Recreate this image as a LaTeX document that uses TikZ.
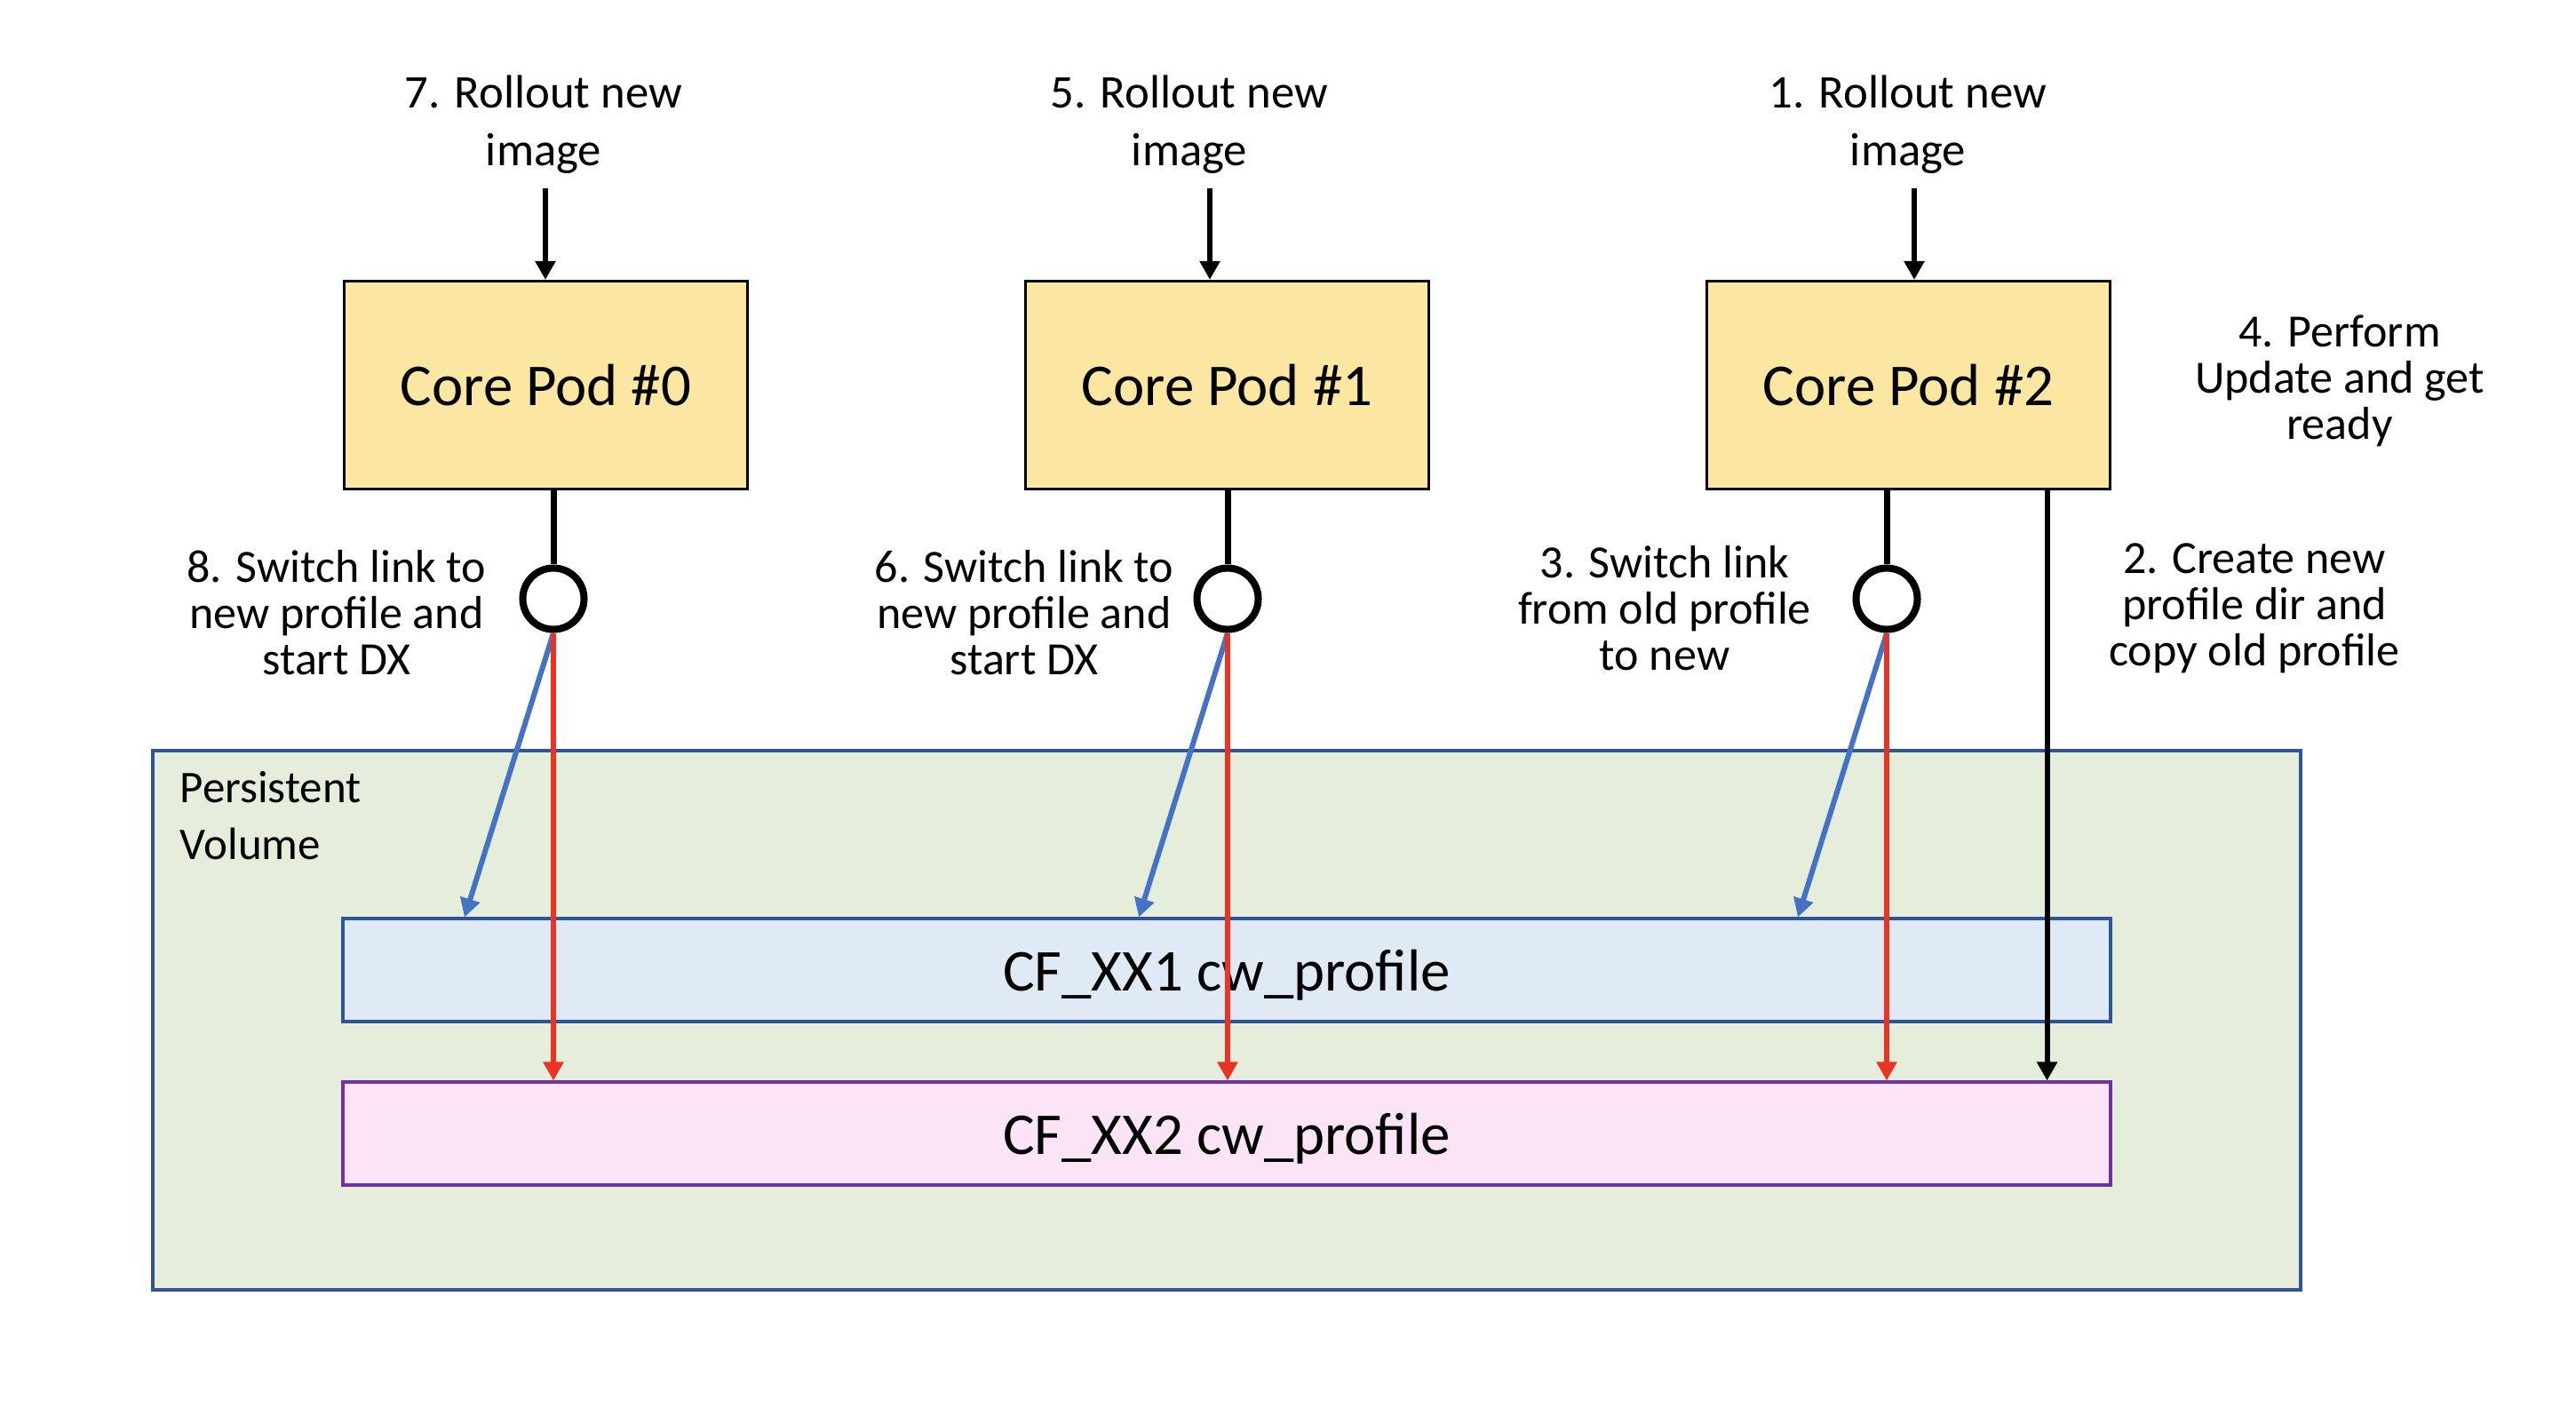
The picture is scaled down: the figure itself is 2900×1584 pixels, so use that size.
\documentclass[tikz,border=0pt]{standalone}
\usepackage{fontspec}
\setmainfont{Carlito}
\usetikzlibrary{calc,positioning,arrows.meta}

\definecolor{podyellow}{HTML}{FBE6A2}
\definecolor{volgreen}{HTML}{E5EEDB}
\definecolor{volblue}{HTML}{2F5597}
\definecolor{oldblue}{HTML}{DFEAF5}
\definecolor{newpink}{HTML}{FAE4F6}
\definecolor{newpurple}{HTML}{7030A0}
\definecolor{linkblue}{HTML}{4472C4}
\definecolor{copyred}{HTML}{EA3323}

\tikzset{
	pod/.style={draw=black,line width=0.03cm,fill=podyellow,minimum width=4.54cm,minimum height=2.34cm,inner sep=0pt,font=\fontsize{19}{23}\selectfont},
	profile/.style={line width=0.04cm,minimum width=19.88cm,minimum height=1.15cm,inner sep=0pt,text depth=0pt,font=\fontsize{19}{23}\selectfont},
	switch/.style={circle,draw=black,line width=0.08cm,fill=white,minimum size=0.69cm,inner sep=0pt},
	note/.style={align=center,inner sep=0pt,font=\fontsize{14.8}{14.8}\selectfont},
	rollnote/.style={align=center,inner sep=0pt,font=\fontsize{15}{18.5}\selectfont},
	tip/.style={-{Triangle[width=0.22cm,length=0.21cm]}},
	link/.style={line width=0.07cm},
	rollout/.style={tip,line width=0.06cm},
	oldlink/.style={tip,line width=0.06cm,draw=linkblue,fill=linkblue},
	newlink/.style={tip,line width=0.06cm,draw=copyred,fill=copyred},
}

\begin{document}
\begin{tikzpicture}[x=0.01cm,y=-0.01cm]
	
	\useasboundingbox (0,0) rectangle (2900,1584);
	
	% persistent volume and the two profile dirs
	\draw [line width=0.04cm,draw=volblue,fill=volgreen] (172,845) rectangle (2590,1452);
	\node [anchor=north west,inner sep=0pt,align=left,font=\fontsize{14.5}{18}\selectfont] (volume-text) at (202,868) {Persistent\\Volume};
	
	\node [profile,draw=volblue,fill=oldblue] (profile-old) at (1381,1092) {CF\_XX1 cw\_profile};
	\node [profile,draw=newpurple,fill=newpink] (profile-new) at (1381,1276) {CF\_XX2 cw\_profile};
	
	%%%%%%%%%%%%%%%%%%%%%%%%%%%%%%%%%%%%%%%%%%%%%%%%%%%%%%
	
	\node [pod] (pod0) at (614.5,433.5) {Core Pod \#0};
	\node [pod] (pod1) at (1381.5,433.5) {Core Pod \#1};
	\node [pod] (pod2) at (2148.5,433.5) {Core Pod \#2};
	
	\node [rollnote] (roll0-text) at (612,140) {7. Rollout new\\image};
	\node [rollnote] (roll1-text) at (1339,140) {5. Rollout new\\image};
	\node [rollnote] (roll2-text) at (2148,140) {1. Rollout new\\image};
	
	\coordinate (roll0-start) at (614,212);
	\coordinate (roll1-start) at (1362,212);
	\coordinate (roll2-start) at (2155,212);
	
	\draw [rollout] (roll0-start) -- (roll0-start |- pod0.north);
	\draw [rollout] (roll1-start) -- (roll1-start |- pod1.north);
	\draw [rollout] (roll2-start) -- (roll2-start |- pod2.north);
	
	%%%%%%%%%%%%%%%%%%%%%%%%%%%%%%%%%%%%%%%%%%%%%%%%%%%%%%
	
	\node [switch] (switch0) at (623,674) {};
	\node [switch] (switch1) at (1382,674) {};
	\node [switch] (switch2) at (2124,674) {};
	
	\draw [link] (switch0.north |- pod0.south) -- (switch0.north);
	\draw [link] (switch1.north |- pod1.south) -- (switch1.north);
	\draw [link] (switch2.north |- pod2.south) -- (switch2.north);
	
	\node [note] (switch0-text) at (379,690) {8. Switch link to\\new profile and\\start DX};
	\node [note] (switch1-text) at (1153,690) {6. Switch link to\\new profile and\\start DX};
	\node [note] (switch2-text) at (1874,685) {3. Switch link\\from old profile\\to new};
	
	\draw [oldlink] (switch0.south) -- ($(switch0.south |- profile-old.north)+(-100,0)$);
	\draw [oldlink] (switch1.south) -- ($(switch1.south |- profile-old.north)+(-100,0)$);
	\draw [oldlink] (switch2.south) -- ($(switch2.south |- profile-old.north)+(-100,0)$);
	
	\draw [newlink] (switch0.south) -- (switch0.south |- profile-new.north);
	\draw [newlink] (switch1.south) -- (switch1.south |- profile-new.north);
	\draw [newlink] (switch2.south) -- (switch2.south |- profile-new.north);
	
	%%%%%%%%%%%%%%%%%%%%%%%%%%%%%%%%%%%%%%%%%%%%%%%%%%%%%%
	
	\coordinate (copy-start) at ($(pod2.south)+(156,0)$);
	\draw [rollout] (copy-start) -- (copy-start |- profile-new.north);
	
	\node [note] (copy-text) at (2538,685) {2. Create new\\profile dir and\\copy old profile};
	\node [note] (update-text) at (2634,429) {4. Perform\\Update and get\\ready};
	
\end{tikzpicture}
\end{document}
